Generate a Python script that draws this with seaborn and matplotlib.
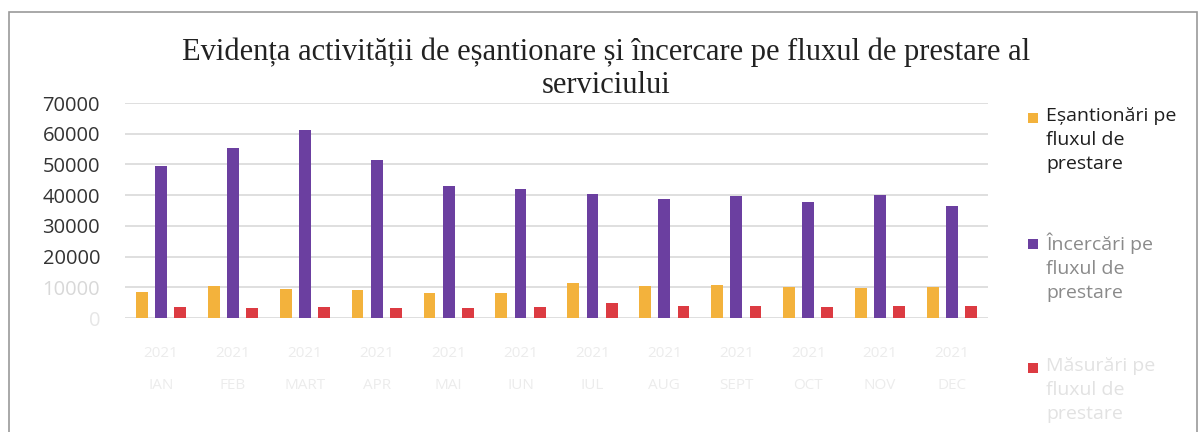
import matplotlib
matplotlib.use("Agg")
import matplotlib.pyplot as plt
import seaborn as sns
import pandas as pd
from matplotlib.patches import Rectangle

years = ["2021"] * 12
months = ["IAN", "FEB", "MART", "APR", "MAI", "IUN", "IUL", "AUG", "SEPT", "OCT", "NOV", "DEC"]
series_names = ["Eșantionări pe\nfluxul de\nprestare",
                "Încercări pe\nfluxul de\nprestare",
                "Măsurări pe\nfluxul de\nprestare"]
esantionari = [8400, 10300, 9400, 9200, 8000, 8100, 11500, 10300, 10900, 10000, 9700, 10000]
incercari = [49500, 55400, 61100, 51400, 42900, 41900, 40400, 38800, 39600, 37700, 39900, 36600]
masurari = [3500, 3200, 3600, 3200, 3100, 3500, 5000, 3900, 3800, 3600, 4000, 4000]
title = "Evidența activității de eșantionare și încercare pe fluxul de prestare al\nserviciului"

colors = ["#F3B23C", "#6B3FA0", "#DC3B42"]
label_colors = ["#1e1e1e", "#8a8a8a", "#e2e2e2"]

cats = [f"{y}\n{m}" for y, m in zip(years, months)]
df = pd.DataFrame({
    "cat": cats * 3,
    "serie": [series_names[0]] * 12 + [series_names[1]] * 12 + [series_names[2]] * 12,
    "val": esantionari + incercari + masurari,
})

sns.set_theme(style="white")
plt.rcParams["font.family"] = ["Open Sans", "DejaVu Sans"]

W, H = 1203, 432
fig = plt.figure(figsize=(W / 100, H / 100), dpi=100)
ax = fig.add_axes([125 / W, 1 - 318 / H, (988 - 125) / W, (318 - 103) / H])

sns.barplot(data=df, x="cat", y="val", hue="serie", hue_order=series_names,
            palette=colors, width=0.8, gap=0.38, ax=ax, legend=False,
            saturation=1, edgecolor="none")

ax.set_ylim(0, 70000)
ax.set_yticks(range(0, 70001, 10000))
ax.set_yticklabels([str(v) for v in range(0, 70001, 10000)])
ax.set_xlim(-0.5, 11.5)
ax.grid(axis="y", color="#d9d9d9", linewidth=1.2)
ax.set_axisbelow(True)
for s in ax.spines.values():
    s.set_visible(False)
ax.set_xlabel("")
ax.set_ylabel("")
ax.tick_params(axis="y", labelsize=14.5, colors="#333333", pad=18, length=0)
ax.tick_params(axis="x", labelsize=11, colors="#ececec", pad=20, length=0)
for lab, c in zip(ax.get_yticklabels(), ["#e6e6e6", "#d8d8d8"] + ["#333333"] * 6):
    lab.set_color(c)
for lab in ax.get_xticklabels():
    lab.set_linespacing(2.6)

fig.text(606 / W, 1 - 69 / H, title, ha="center", va="center", fontsize=22,
         family="Liberation Serif", color="#222222", linespacing=1.2)

# legend (marker aligned with first text line, as in the reference)
entry_y = [118, 244, 368]
for name, c, tc, yy in zip(series_names, colors, label_colors, entry_y):
    fig.patches.append(Rectangle((1028 / W, 1 - (yy + 5) / H), 10 / W, 10 / H,
                                 transform=fig.transFigure, facecolor=c,
                                 edgecolor="none"))
    fig.text(1046 / W, 1 - (yy - 11) / H, name, ha="left", va="top",
             fontsize=14, color=tc, linespacing=1.42)

# chart border
fig.patches.append(Rectangle((9 / W, -0.05), 1188 / W, 1.05 - 12 / H,
                             transform=fig.transFigure, fill=False,
                             edgecolor="#9a9a9a", linewidth=1.2))

fig.savefig("out.png", dpi=100, facecolor="white")
